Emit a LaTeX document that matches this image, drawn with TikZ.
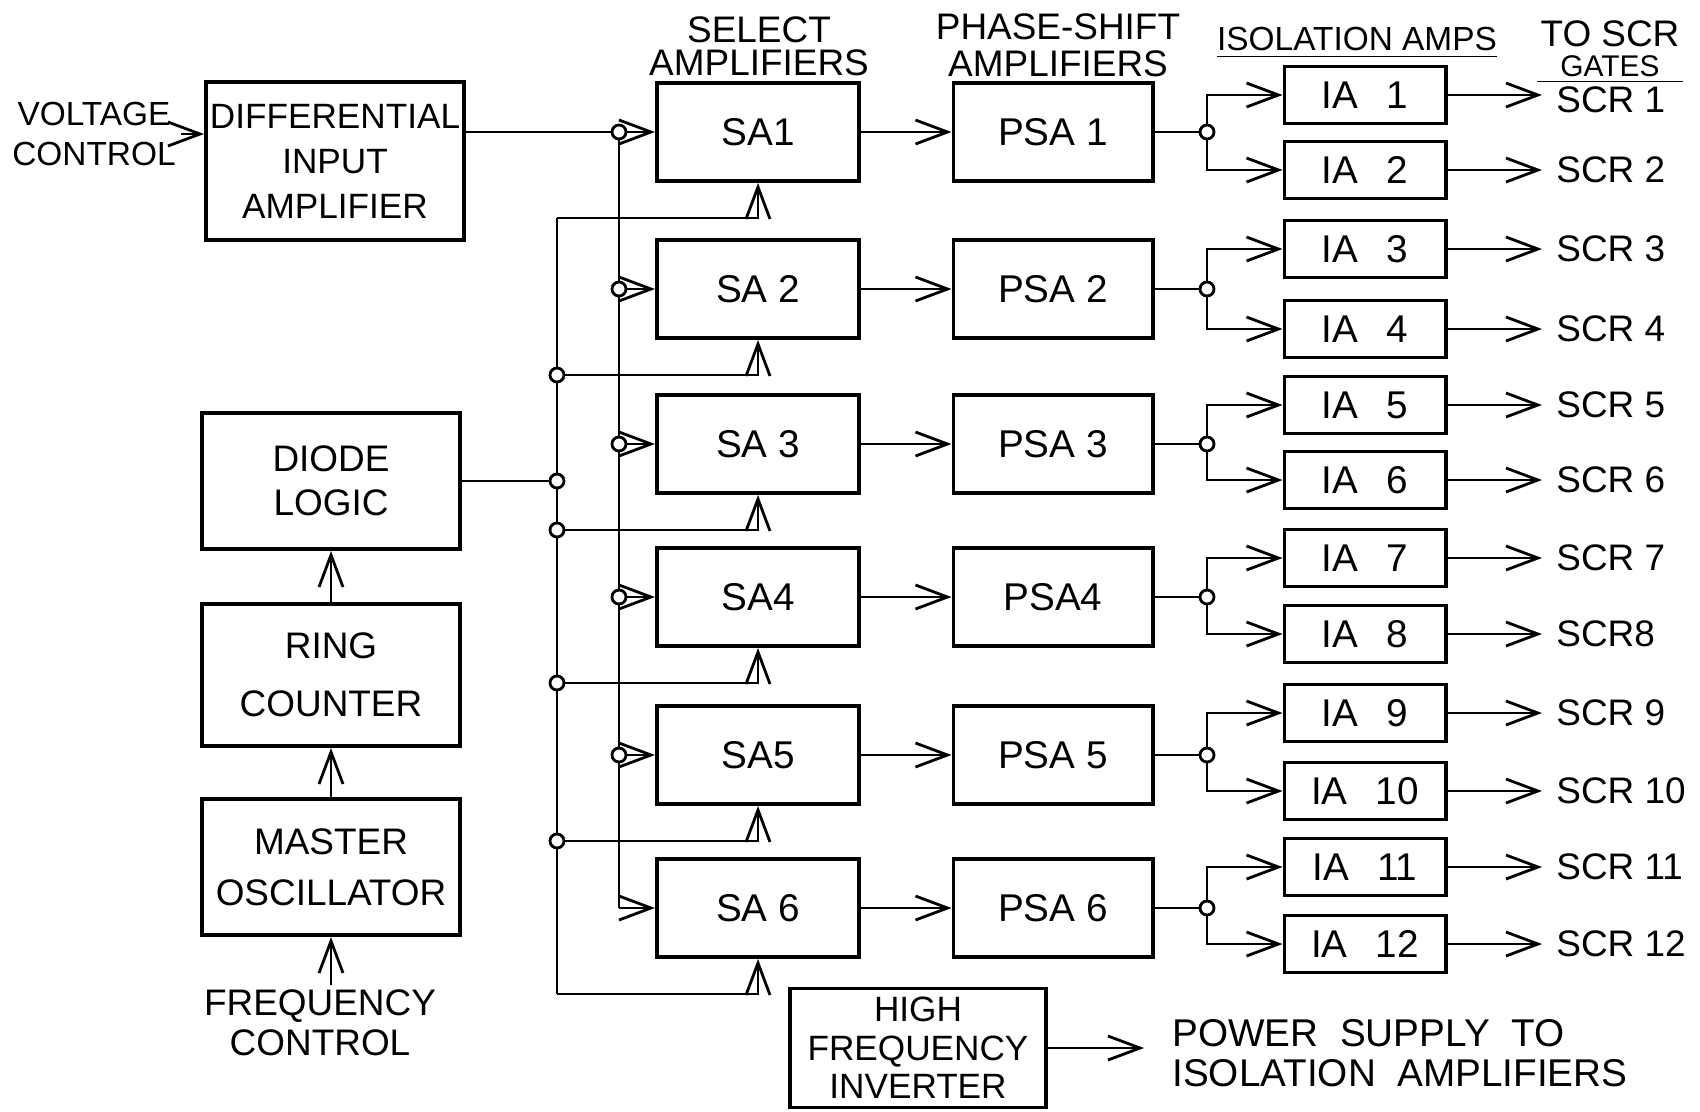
\documentclass[tikz,border=0pt]{standalone}
\usepackage{fontspec}
\setmainfont{Liberation Sans}
\usetikzlibrary{arrows.meta,positioning,calc}

\begin{document}
\begin{tikzpicture}[x=0.01cm,y=-0.01cm,line width=0.8pt,
  >={Straight Barb[length=3.2mm,width=2.4mm]},
  blk/.style={draw,line width=1.1pt,align=center,inner sep=2pt,font=\fontsize{10.5}{12.6}\selectfont},
  amp/.style={blk,minimum height=0.98cm,font=\fontsize{11}{13}\selectfont},
  iabox/.style={blk,minimum width=1.61cm,minimum height=0.57cm,font=\fontsize{11}{13}\selectfont},
  lab/.style={align=center,inner sep=1pt,font=\fontsize{10.5}{12.6}\selectfont},
  jn/.style={circle,draw,fill=white,inner sep=0pt,minimum size=1.4mm}]
\useasboundingbox (0,0) rectangle (1700,1111);

% left column
\node (dia) [blk,inner xsep=1pt,minimum width=2.58cm,minimum height=1.58cm,font=\fontsize{10}{12.8}\selectfont] at (335,161) {DIFFERENTIAL\\INPUT\\AMPLIFIER};
\node (dl) [blk,minimum width=2.58cm,minimum height=1.36cm] at (331,481) {DIODE\\LOGIC};
\node (rc) [blk,minimum width=2.58cm,minimum height=1.42cm] at (331,675) {RING\\[4pt]COUNTER};
\node (mo) [blk,minimum width=2.58cm,minimum height=1.36cm] at (331,867) {MASTER\\[2pt]OSCILLATOR};
\node (vc) [lab,font=\fontsize{9.5}{11.3}\selectfont] at (94,134) {VOLTAGE\\CONTROL};
\node (fc) [lab,font=\fontsize{10.5}{11.4}\selectfont] at (320,1023) {FREQUENCY\\CONTROL};

% headings
\node (hsel) [lab,font=\fontsize{10.5}{9.5}\selectfont] at (759,46) {SELECT\\AMPLIFIERS};
\node (hpsa) [lab,font=\fontsize{10.5}{10.5}\selectfont] at (1058,45) {PHASE-SHIFT\\AMPLIFIERS};
\node (hia) [lab,font=\fontsize{9.5}{11}\selectfont] at (1357,43) {\underline{ISOLATION AMPS}};
\node (hscr) [lab,font=\fontsize{10.5}{8.5}\selectfont] at (1610,52) {TO SCR\\{\fontsize{8.5}{8.5}\selectfont\underline{\hbox to 1.46cm{\hss GATES\hss}}}};

% amplifier columns
\foreach \i/\y/\t in {1/132/SA1, 2/289/SA 2, 3/444/SA 3, 4/597/SA4, 5/755/SA5, 6/908/SA 6}
  \node (sa\i) [amp,minimum width=2.02cm] at (758,\y) {\t};
\foreach \i/\y/\t in {1/132/PSA 1, 2/289/PSA 2, 3/444/PSA 3, 4/597/PSA4, 5/755/PSA 5, 6/908/PSA 6}
  \node (psa\i) [amp,minimum width=1.99cm] at (1053,\y) {\t};
\foreach \j/\y in {1/95,2/170,3/249,4/329,5/405,6/480,7/558,8/634,9/713,10/791,11/867,12/944}
  \node (ia\j) [iabox] at (1365,\y) {IA\hspace{8pt}\j};
\foreach \j/\y/\t in {1/100/SCR 1,2/170/SCR 2,3/249/SCR 3,4/329/SCR 4,5/405/SCR 5,6/480/SCR 6,
    7/558/SCR 7,8/634/SCR8,9/713/SCR 9,10/791/SCR 10,11/867/SCR 11,12/944/SCR 12}
  \node (scr\j) [lab,anchor=west,inner xsep=0.13cm] at (1542,\y) {\t};

% power
\node (hfi) [blk,minimum width=2.56cm,minimum height=1.19cm,font=\fontsize{10}{11}\selectfont] at (918,1048) {HIGH\\FREQUENCY\\INVERTER};
\node (ps) [lab,anchor=west,align=left,inner xsep=0.27cm,font=\fontsize{11}{11.4}\selectfont] at (1144,1053) {POWER\ \ SUPPLY\ \ TO\\ISOLATION\ \ AMPLIFIERS};

% bus junctions
\coordinate (busa) at (619,0);
\coordinate (busb) at (557,0);
\coordinate (busc) at (1207,0);
\foreach \i in {1,...,5} \node (ja\i) [jn] at (busa |- sa\i.west) {};
\coordinate (ja6) at (busa |- sa6.west);
\foreach \i in {1,...,6} \coordinate (s\i) at ([yshift=-3.5mm]sa\i.south);
\coordinate (jb1) at (busb |- s1);
\foreach \i in {2,...,5} \node (jb\i) [jn] at (busb |- s\i) {};
\coordinate (jb6) at (busb |- s6);
\node (jd) [jn] at (busb |- dl.east) {};
\foreach \i in {1,...,6} \node (jc\i) [jn] at (busc |- psa\i.east) {};

% inputs
\draw[->] (vc.east) -- (vc.east -| dia.west);
\draw[->] (mo) -- (rc);
\draw[->] (rc) -- (dl);
\draw[->] (fc.north -| mo.south) -- (mo.south);

% voltage bus
\draw (dia.east |- ja1) -- (ja1);
\draw (ja1) -- (ja2) -- (ja3) -- (ja4) -- (ja5) -- (ja6);
\foreach \i in {1,...,6} \draw[->] (ja\i) -- (sa\i);

% logic bus
\draw (dl) -- (jd);
\draw (jb1) -- (jb2) -- (jd) -- (jb3) -- (jb4) -- (jb5) -- (jb6);
\foreach \i in {1,...,6} \draw[->] (jb\i) -| (sa\i);

% amplifier chain
\foreach \i in {1,...,6} {
  \draw[->] (sa\i) -- (psa\i);
  \draw (psa\i) -- (jc\i);
}
\foreach \i [evaluate=\i as \a using int(2*\i-1), evaluate=\i as \b using int(2*\i)] in {1,...,6} {
  \draw[->] (jc\i) |- (ia\a);
  \draw[->] (jc\i) |- (ia\b);
}
\foreach \j in {1,...,12} \draw[->] (ia\j.east) -- (ia\j.east -| scr\j.west);

\draw[->] (hfi) -- (hfi -| ps.west);
\end{tikzpicture}
\end{document}
